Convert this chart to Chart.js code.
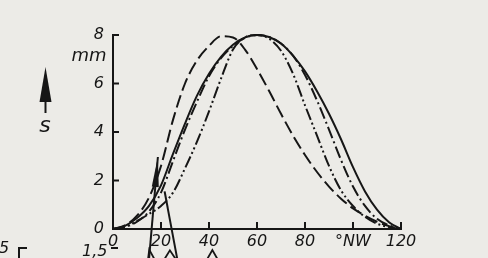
<!DOCTYPE html>
<html>
<head>
<meta charset="utf-8">
<script src="https://cdn.jsdelivr.net/npm/chart.js@4.4.0/dist/chart.umd.min.js"></script>
<style>
  html, body { margin: 0; padding: 0; background: #ecebe7; }
  #wrap { width: 488px; height: 258px; }
</style>
</head>
<body>
<div id="wrap"><canvas id="camChart" width="488" height="258"></canvas></div>
<script>
// cam angle, degrees NW
const angles = [0, 5, 10, 15, 20, 25, 30, 35, 40, 45, 50, 55, 60, 65, 70, 75, 80, 85, 90, 95, 100, 105, 110, 115, 120];
// valve lift s in mm for the four cam profiles
const liftSolid      = [0, 0.13, 0.45, 0.95, 1.8, 3.1, 4.35, 5.5, 6.4, 7.1, 7.6, 7.9, 8.0, 7.92, 7.65, 7.15, 6.5, 5.68, 4.75, 3.7, 2.55, 1.55, 0.8, 0.28, 0];
const liftDashDot    = [0, 0.08, 0.3, 0.72, 1.5, 2.8, 4.1, 5.25, 6.3, 7.05, 7.55, 7.88, 8.0, 7.92, 7.65, 7.15, 6.35, 5.3, 4.1, 2.85, 1.75, 0.95, 0.42, 0.15, 0];
const liftDashDotDot = [0, 0.1, 0.33, 0.62, 0.95, 1.5, 2.5, 3.6, 4.85, 6.2, 7.4, 7.9, 8.0, 7.85, 7.35, 6.4, 5.1, 3.85, 2.6, 1.6, 0.95, 0.5, 0.22, 0.08, 0];
const liftDashed     = [0, 0.15, 0.55, 1.3, 2.6, 4.5, 6.0, 6.95, 7.55, 7.95, 7.9, 7.4, 6.6, 5.7, 4.75, 3.85, 3.05, 2.35, 1.75, 1.25, 0.85, 0.55, 0.3, 0.12, 0];

const xTicks = [0, 20, 40, 60, 80, 100, 120];
const yTicks = [0, 2, 4, 6, 8];

// pointers coming up from the (cut off) figure underneath
const pointerArrow = [[15, -1.25], [18.7, 2.97]];
const pointerLine  = [[21.5, 1.55], [26.8, -1.25]];
const chevronA = [[14.6, -1.25], [15.1, -0.85], [17.3, -1.25]];
const chevronB = [[21.4, -1.25], [23.7, -0.88], [26.2, -1.25]];
const chevronC = [[39.2, -1.25], [41.4, -0.87], [43.6, -1.25]];

const ink = '#161616';
const paper = '#ecebe7';
const font = '"DejaVu Sans"';

function toPoints(ys) {
  return angles.map((a, i) => ({ x: a, y: ys[i] }));
}
function pairs(list) {
  return list.map(([x, y]) => ({ x: x, y: y }));
}
function curve(label, ys, dash) {
  return {
    label: label,
    data: toPoints(ys),
    borderColor: ink,
    borderWidth: 2,
    borderDash: dash,
    pointRadius: 0,
    fill: false,
    cubicInterpolationMode: 'monotone',
    clip: false
  };
}
function stroke(label, list, width, head) {
  return {
    label: label,
    data: pairs(list),
    borderColor: ink,
    borderWidth: width,
    pointRadius: 0,
    tension: 0,
    fill: false,
    clip: false,
    arrowHead: head
  };
}

const decorations = {
  id: 'decorations',
  beforeDraw(chart) {
    const ctx = chart.ctx;
    ctx.save();
    ctx.fillStyle = paper;
    ctx.fillRect(0, 0, chart.width, chart.height);
    ctx.restore();
  },
  afterDraw(chart) {
    const { ctx, chartArea: a, scales: { x, y } } = chart;
    ctx.save();
    ctx.strokeStyle = ink;
    ctx.fillStyle = ink;
    ctx.lineWidth = 2;
    ctx.setLineDash([]);

    // tick marks point into the plot
    ctx.beginPath();
    yTicks.forEach(v => {
      if (v === 0) return;
      const py = y.getPixelForValue(v);
      ctx.moveTo(a.left, py);
      ctx.lineTo(a.left + 6, py);
    });
    xTicks.forEach(v => {
      if (v === 0) return;
      const px = x.getPixelForValue(v);
      ctx.moveTo(px, a.bottom);
      ctx.lineTo(px, a.bottom - 7);
    });
    ctx.stroke();

    // arrow heads on pointer lines
    chart.data.datasets.forEach((ds, i) => {
      if (!ds.arrowHead) return;
      const pts = chart.getDatasetMeta(i).data;
      const p = pts[pts.length - 1], q = pts[pts.length - 2];
      const ang = Math.atan2(p.y - q.y, p.x - q.x);
      const len = 30, half = 3.5;
      const bx = p.x - len * Math.cos(ang), by = p.y - len * Math.sin(ang);
      ctx.beginPath();
      ctx.moveTo(p.x, p.y);
      ctx.lineTo(bx + half * Math.sin(ang), by - half * Math.cos(ang));
      ctx.lineTo(bx - half * Math.sin(ang), by + half * Math.cos(ang));
      ctx.closePath();
      ctx.fill();
    });

    // unit
    ctx.textAlign = 'center';
    ctx.textBaseline = 'middle';
    ctx.font = 'italic 18px ' + font;
    ctx.fillText('mm', 89, 56);

    // lift symbol with arrow
    ctx.beginPath();
    ctx.moveTo(45.5, 67);
    ctx.lineTo(51.5, 102);
    ctx.lineTo(39.5, 102);
    ctx.closePath();
    ctx.fill();
    ctx.beginPath();
    ctx.moveTo(45.5, 100);
    ctx.lineTo(45.5, 113);
    ctx.stroke();
    ctx.font = 'italic 22px ' + font;
    ctx.fillText('s', 45, 126);

    // top of the next figure, cut off by the frame
    ctx.textAlign = 'left';
    ctx.textBaseline = 'top';
    ctx.font = 'italic 16px ' + font;
    ctx.fillText('5', -1, 241);
    ctx.fillText('1,5', 82, 244);
    ctx.beginPath();
    ctx.moveTo(19, 258);
    ctx.lineTo(19, 248);
    ctx.lineTo(27, 248);
    ctx.moveTo(111, 248);
    ctx.lineTo(118, 248);
    ctx.stroke();
    ctx.restore();
  }
};

const tickFont = { family: 'DejaVu Sans', style: 'italic', size: 16 };

new Chart(document.getElementById('camChart'), {
  type: 'line',
  data: {
    datasets: [
      curve('solid', liftSolid, []),
      curve('dash-dot', liftDashDot, [12, 3.5, 2, 3.5]),
      curve('dash-dot-dot', liftDashDotDot, [12, 3, 2, 3, 2, 3]),
      curve('dashed', liftDashed, [13, 5]),
      stroke('pointer', pointerArrow, 2, true),
      stroke('pointer2', pointerLine, 2, false),
      stroke('chevA', chevronA, 1.8, false),
      stroke('chevB', chevronB, 1.8, false),
      stroke('chevC', chevronC, 1.8, false)
    ]
  },
  options: {
    responsive: false,
    devicePixelRatio: 1,
    animation: false,
    layout: { padding: { left: 0, top: 35, right: 87, bottom: 0 } },
    plugins: {
      legend: { display: false },
      tooltip: { enabled: false }
    },
    scales: {
      x: {
        type: 'linear',
        min: 0,
        max: 120,
        grid: { display: false, drawTicks: false },
        border: { color: ink, width: 2 },
        ticks: {
          color: ink,
          font: tickFont,
          padding: 3,
          maxRotation: 0,
          autoSkip: false,
          callback: v => (v === 100 ? '°NW' : String(v))
        },
        afterBuildTicks: s => { s.ticks = xTicks.map(v => ({ value: v })); },
        afterFit: s => { s.height = 29; }
      },
      y: {
        min: 0,
        max: 8,
        grid: { display: false, drawTicks: false },
        border: { color: ink, width: 2 },
        ticks: {
          color: ink,
          font: tickFont,
          padding: 9,
          autoSkip: false
        },
        afterBuildTicks: s => { s.ticks = yTicks.map(v => ({ value: v })); },
        afterFit: s => { s.width = 113; }
      }
    }
  },
  plugins: [decorations]
});
</script>
</body>
</html>
